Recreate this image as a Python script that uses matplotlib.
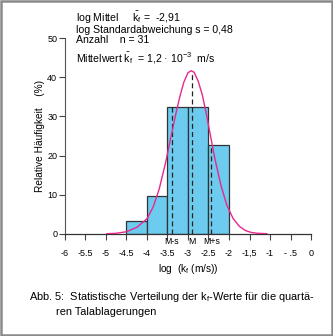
import numpy as np
import matplotlib
matplotlib.use("Agg")
import matplotlib.pyplot as plt
from matplotlib.patches import Rectangle

plt.rcParams["font.family"] = ["Liberation Sans", "DejaVu Sans"]
plt.rcParams["mathtext.fontset"] = "custom"
plt.rcParams["mathtext.rm"] = "Liberation Sans"
plt.rcParams["mathtext.it"] = "Liberation Sans:italic"

# === Daten ===
bin_left = [-4.5, -4.0, -3.5, -3.0, -2.5]
bin_width = 0.5
rel_freq = [3.2, 9.7, 32.3, 32.3, 22.6]

# Normalverteilungskurve
curve_x = [-4.98, -4.75, -4.5, -4.25, -4.0, -3.85, -3.7, -3.55, -3.4, -3.3, -3.2,
           -3.1, -3.0, -2.92, -2.85, -2.75, -2.65, -2.55, -2.45, -2.35, -2.2,
           -2.05, -1.9, -1.75, -1.6, -1.45, -1.3, -1.08]
curve_y = [0.0, 0.1, 0.5, 1.6, 3.8, 6.8, 11.5, 18.0, 25.5, 30.5, 35.0,
           38.8, 41.2, 41.7, 41.3, 39.0, 35.5, 30.5, 25.0, 19.5, 12.5,
           7.2, 3.9, 1.9, 0.8, 0.3, 0.1, 0.0]

mean_log = -2.91
std_log = 0.48
ms_x = [mean_log - std_log, mean_log, mean_log + std_log]
ms_top = [32.3, 41.7, 22.6]
ms_labels = ["M-s", "M", "M+s"]

xticks = [-6, -5.5, -5, -4.5, -4, -3.5, -3, -2.5, -2, -1.5, -1, -0.5, 0]
xticklabels = ["-6", "-5.5", "-5", "-4.5", "-4", "-3.5", "-3", "-2.5", "-2",
               "-1,5", "-1", "- .5", "0"]
yticks = [0, 10, 20, 30, 40, 50]

# === Grafik ===
fig = plt.figure(figsize=(3.33, 3.36), dpi=100)
ax = fig.add_axes([0.195, 0.3045, 0.739, 0.5815])

ax.bar(bin_left, rel_freq, width=bin_width, align="edge",
       color="#6ccbef", edgecolor="#333333", linewidth=0.9, zorder=2)
ax.plot(curve_x, curve_y, color="#e8288c", linewidth=1.0, zorder=4)
for x, top in zip(ms_x, ms_top):
    ax.plot([x, x], [0, top], color="#222222", linestyle=(0, (4, 2.5)),
            linewidth=0.9, zorder=3)
for x, lab in zip(ms_x, ms_labels):
    ax.text(x, -0.9, lab, ha="center", va="top", fontsize=6.3)

ax.set_xlim(-6, 0)
ax.set_ylim(0, 50)
ax.set_xticks(xticks)
ax.set_xticklabels(xticklabels, fontsize=6.5)
ax.set_yticks(yticks)
ax.set_yticklabels([str(t) for t in yticks], fontsize=6.5)
ax.tick_params(axis="x", length=4, width=0.8, pad=7, color="#444444")
ax.tick_params(axis="y", length=4, width=0.8, pad=1.5, color="#444444")
ax.spines["top"].set_visible(False)
ax.spines["right"].set_visible(False)
ax.spines["left"].set_color("#555555")
ax.spines["bottom"].set_color("#333333")
ax.spines["left"].set_linewidth(0.8)
ax.spines["bottom"].set_linewidth(0.9)

ax.set_xlabel(r"log  (k$_\mathrm{f}$ (m/s))", fontsize=7.3, labelpad=3)
ax.set_ylabel("Relative Häufigkeit    (%)", fontsize=7.3, labelpad=2)

# Statistik-Text
tx = 76 / 333
fs = 7.6
fig.text(tx, 1 - 17.8 / 336, r"log Mittel     $\bar{\mathrm{k}}_\mathrm{f}$ =  -2,91",
         fontsize=fs, va="center")
fig.text(tx, 1 - 30.0 / 336, "log Standardabweichung s = 0,48",
         fontsize=fs, va="center")
fig.text(tx, 1 - 39.6 / 336, "Anzahl    n = 31", fontsize=fs, va="center")
fig.text(tx, 1 - 58 / 336,
         r"Mittelwert $\bar{\mathrm{k}}_\mathrm{f}$  = 1,2 · 10$^{-3}$  m/s",
         fontsize=fs, va="center")

# Bildunterschrift
fig.text(29 / 333, 1 - 297 / 336,
         r"Abb. 5:  Statistische Verteilung der k$_\mathrm{f}$-Werte für die quartä-",
         fontsize=7.9, va="center")
fig.text(56 / 333, 1 - 312 / 336, "ren Talablagerungen", fontsize=7.9, va="center")

# Rahmen
fig.patches.append(Rectangle((0.003, 0.003), 0.994, 0.994, transform=fig.transFigure,
                             fill=False, edgecolor="#8a8a8a", linewidth=1.8))

fig.savefig("out.png", dpi=100)
